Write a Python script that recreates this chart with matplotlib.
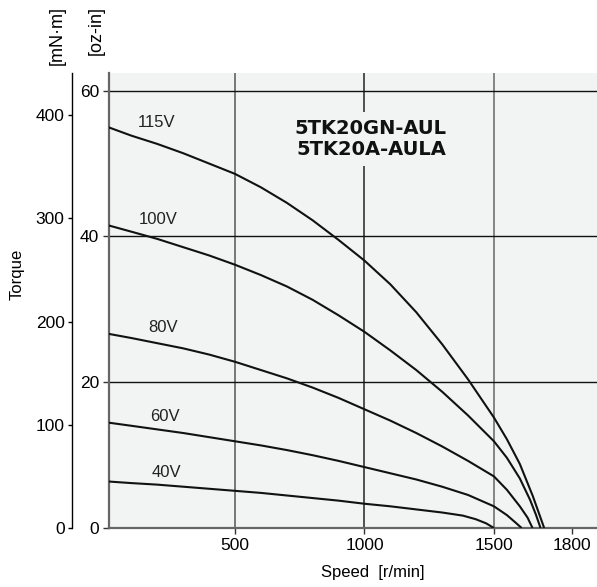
import matplotlib
matplotlib.use('Agg')
import matplotlib.pyplot as plt
import numpy as np

# torque curves, speed in r/min, torque in mN*m
speed_115 = [13, 100, 200, 300, 400, 500, 600, 700, 800, 900, 1000, 1100, 1200,
             1300, 1400, 1500, 1550, 1600, 1650, 1694]
torque_115 = [388, 380, 372, 363, 353, 343, 330, 315, 298, 279, 259, 236, 209,
              178, 144, 107, 86, 62, 31, 0]
speed_100 = [13, 100, 200, 300, 400, 500, 600, 700, 800, 900, 1000, 1100, 1200,
             1300, 1400, 1500, 1550, 1600, 1640, 1662, 1680]
torque_100 = [293, 287, 280, 272, 264, 255, 245, 234, 221, 206, 190, 172, 153,
              132, 109, 84, 68, 48, 27, 13, 0]
speed_80 = [13, 100, 200, 300, 400, 500, 600, 700, 800, 900, 1000, 1100, 1200,
            1300, 1400, 1500, 1550, 1600, 1630, 1649]
torque_80 = [188, 184, 179, 174, 168, 161, 153, 145, 136, 126, 115, 104, 92,
             79, 65, 50, 37, 21, 10, 0]
speed_60 = [13, 100, 200, 300, 400, 500, 600, 700, 800, 900, 1000, 1100, 1200,
            1300, 1400, 1500, 1550, 1580, 1607]
torque_60 = [102, 99, 95.5, 92, 88, 84, 80, 75.5, 70.5, 65, 59, 53, 47,
             40, 32, 21, 12.5, 6, 0]
speed_40 = [13, 100, 200, 300, 400, 500, 600, 700, 800, 900, 1000, 1100, 1200,
            1300, 1380, 1430, 1470, 1500]
torque_40 = [45, 43.5, 42, 40, 38, 36, 34, 31.5, 29, 26.5, 23.5, 21, 18,
             15, 12, 8.5, 4.5, 0]

curve_labels = ['115V', '100V', '80V', '60V', '40V']
label_speed = [199, 203, 222, 230, 237]
label_torque = [393, 299, 194, 108, 54]

ozin_ticks = [0, 20, 40, 60]
mnm_ticks = [0, 100, 200, 300, 400]
speed_ticks = [500, 1000, 1500, 1800]
OZIN = 7.0616  # mN*m per oz-in

BG = '#f1f4f3'
plt.rcParams['font.family'] = ['Liberation Sans Narrow', 'Liberation Sans', 'DejaVu Sans']


def main():
    fig = plt.figure(figsize=(5.97, 5.87), dpi=100)
    ax = fig.add_axes([109 / 597, 59 / 587, 488 / 597, 455 / 587])
    ax.set_facecolor(BG)
    ax.set_xlim(13.5, 1898)
    ax.set_ylim(0, 440.7)

    curves = [(speed_115, torque_115), (speed_100, torque_100),
              (speed_80, torque_80), (speed_60, torque_60),
              (speed_40, torque_40)]
    for (s, t) in curves:
        ax.plot(s, t, color='#111111', lw=1.5, zorder=4,
                solid_joinstyle='round', solid_capstyle='butt')
    for lab, s, t in zip(curve_labels, label_speed, label_torque):
        ax.text(s, t, lab, fontsize=12, ha='center', va='center', color='#222222')

    # grid
    for v, c in zip([500, 1000, 1500], ['#555555', '#222222', '#666666']):
        ax.axvline(v, color=c, lw=1.1, zorder=1)
    for o in ozin_ticks[1:]:
        ax.axhline(o * OZIN, color='#111111', lw=1.0, zorder=1)

    ax.text(1025, 377, '5TK20GN-AUL\n5TK20A-AULA', fontsize=14, fontweight='bold',
            family='DejaVu Sans', ha='center', va='center', linespacing=1.1,
            color='#111111', zorder=3,
            bbox=dict(facecolor=BG, edgecolor='none', pad=5))

    for sp in ['top', 'right']:
        ax.spines[sp].set_visible(False)
    for sp in ['left', 'bottom']:
        ax.spines[sp].set_color('#666666')
        ax.spines[sp].set_linewidth(1.6)

    ax.set_xticks(speed_ticks)
    ax.set_xticklabels([str(v) for v in speed_ticks])
    ax.set_yticks([o * OZIN for o in ozin_ticks])
    ax.set_yticklabels([str(o) for o in ozin_ticks])
    ax.tick_params(axis='both', direction='out', length=4, width=1,
                   color='#333333', labelsize=12.5, pad=3)

    # second torque scale in mN*m
    ax2 = ax.twinx()
    ax2.set_ylim(0, 440.7)
    ax2.spines['right'].set_visible(False)
    ax2.spines['top'].set_visible(False)
    ax2.spines['bottom'].set_visible(False)
    ax2.spines['left'].set_visible(True)
    ax2.spines['left'].set_position(('outward', 27))
    ax2.spines['left'].set_linewidth(1.0)
    ax2.yaxis.set_ticks_position('left')
    ax2.yaxis.set_label_position('left')
    ax2.set_yticks(mnm_ticks)
    ax2.set_yticklabels([str(v) for v in mnm_ticks])
    ax2.tick_params(axis='y', direction='out', length=3, width=1,
                    labelsize=12.5, pad=2)

    fig.text(17 / 597, 1 - 274 / 587, 'Torque', rotation=90, fontsize=12,
             ha='center', va='center')
    fig.text(373 / 597, 1 - 573 / 587, 'Speed  [r/min]', fontsize=12,
             ha='center', va='center')
    fig.text(57 / 597, 1 - 6 / 587, '[mN\u00b7m]', rotation=90, fontsize=13,
             ha='center', va='top')
    fig.text(96 / 597, 1 - 6 / 587, '[oz-in]', rotation=90, fontsize=13,
             ha='center', va='top')

    fig.savefig('out.png', dpi=100)


if __name__ == '__main__':
    main()
